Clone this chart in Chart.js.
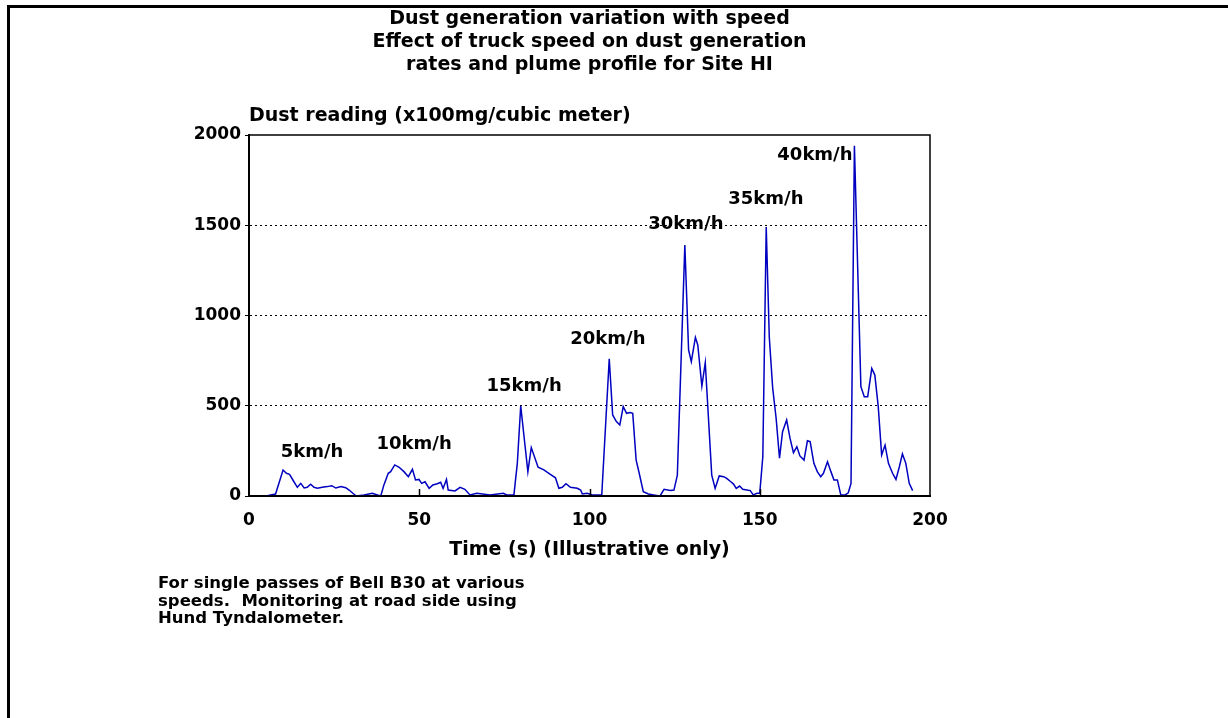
<!DOCTYPE html>
<html><head><meta charset="utf-8">
<script src="https://cdn.jsdelivr.net/npm/chart.js@4.4.1/dist/chart.umd.min.js"></script>
<style>html,body{margin:0;padding:0;background:#fff;overflow:hidden}canvas{display:block}</style>
</head><body>
<canvas id="c" width="1228" height="718"></canvas>
<script>
const titleLines = ["Dust generation variation with speed", "Effect of truck speed on dust generation", "rates and plume profile for Site HI"];
const yAxisTitle = "Dust reading (x100mg/cubic meter)";
const xAxisTitle = "Time (s) (Illustrative only)";
const footnoteLines = ["For single passes of Bell B30 at various", "speeds.  Monitoring at road side using", "Hund Tyndalometer."];
const xTickValues = [0, 50, 100, 150, 200];
const yTickValues = [0, 500, 1000, 1500, 2000];

const timeSec = [5, 7.8, 10.0, 11.0, 11.9, 13.2, 14.2, 15.2, 16.2, 17.1, 18.1, 19.1, 20.1, 21.5, 23.0, 24.3, 25.5, 27.0, 28.4, 29.4, 30.5, 31.5, 33.8, 36.2, 37.7, 38.7,
  39.6, 40.9, 41.6, 42.8, 44.1, 45.5, 46.8, 48.0, 48.9, 49.9, 50.7, 51.7, 52.9, 54.0, 55.3, 56.3, 57.0, 58.0, 58.5, 60.5, 62.0, 63.4, 64.9, 66.9, 70.8, 74.7, 75.7, 77.8,
  78.8, 79.8, 81.1, 81.9, 82.9, 84.9, 86.6, 88.5, 90.0, 91.0, 92.0, 93.1, 94.4, 96.4, 97.4, 97.9, 99.3, 100.8, 103.6,
  105.8, 106.8, 107.9, 108.9, 109.9, 110.9, 111.9, 112.7, 113.7, 114.6, 115.8, 117.3, 118.8, 120.7, 121.9, 123.7, 124.8, 125.8,
  128.0, 129.1, 129.9, 131.1, 131.8, 133.0, 134.0, 135.9, 136.9, 138.1, 139.4, 140.3, 141.5, 142.3, 143.1, 144.1, 145.0, 146.2, 147.2, 148.1, 149.2, 150.0, 150.9,
  151.9, 152.8, 153.8, 154.8, 155.8, 156.7, 157.9, 158.9, 159.9, 160.9, 161.8, 163.0, 164.0, 164.8, 165.9, 166.9, 167.9, 168.7, 169.9, 170.9, 171.8, 172.8, 173.8, 175.1, 176.0, 176.8,
  177.8, 179.7, 180.7, 181.7, 182.9, 183.8, 184.8, 185.8, 186.8, 187.8, 189.0, 190.0, 191.0, 191.9, 192.9, 193.9, 194.9];
const dustReading = [0, 11, 144, 126, 120, 79, 48, 70, 45, 48, 65, 48, 43, 48, 52, 57, 44, 52, 46, 33, 15, 0, 6, 15, 6, 0,
  60, 126, 135, 172, 159, 135, 107, 148, 89, 92, 70, 79, 42, 61, 68, 76, 42, 92, 33, 28, 48, 37, 6, 15, 6, 15, 6, 6,
  181, 499, 273, 135, 268, 159, 145, 120, 101, 43, 48, 68, 48, 43, 33, 11, 15, 6, 6,
  760, 449, 412, 393, 495, 458, 462, 458, 199, 126, 24, 11, 6, 0, 37, 30, 33, 116,
  1390, 809, 744, 879, 837, 609, 739, 116, 42, 111, 107, 98, 79, 66, 42, 55, 37, 33, 30, 6, 15, 15, 218,
  1490, 881, 598, 432, 209, 356, 421, 319, 240, 273, 222, 199, 306, 301, 181, 135, 107, 126, 190, 135, 89, 89, 6, 6, 18, 70,
  1940, 606, 550, 550, 707, 670, 495, 227, 282, 181, 126, 92, 162, 233, 181, 70, 30];

const speedLabels = ["5km/h", "10km/h", "15km/h", "20km/h", "30km/h", "35km/h", "40km/h"];
const speedLabelTime = [18.5, 48.5, 80.8, 105.4, 128.3, 151.8, 166.2];
const speedLabelValue = [244, 288, 609, 870, 1507, 1645, 1889];

const FONT = "'DejaVu Sans', sans-serif";
const points = timeSec.map((t, i) => ({x: t, y: dustReading[i]}));

const decorPlugin = {
  id: 'decor',
  afterDraw(chart) {
    const {ctx, chartArea: a, scales: {x, y}} = chart;
    ctx.save();
    // page border
    ctx.fillStyle = '#000';
    ctx.fillRect(7, 5, 1221, 3);
    ctx.fillRect(7, 5, 3, 713);
    // plot frame
    ctx.strokeStyle = '#000';
    ctx.lineWidth = 1.5;
    ctx.strokeRect(a.left, a.top, a.right - a.left, a.bottom - a.top);
    // inner x ticks
    xTickValues.slice(1, -1).forEach(v => {
      const px = Math.round(x.getPixelForValue(v)) + 0.5;
      ctx.beginPath(); ctx.moveTo(px, a.bottom); ctx.lineTo(px, a.bottom - 7); ctx.stroke();
    });
    // speed labels
    ctx.fillStyle = '#000';
    ctx.font = "bold 18px " + FONT;
    ctx.textAlign = 'center';
    ctx.textBaseline = 'middle';
    speedLabels.forEach((s, i) => {
      ctx.fillText(s, x.getPixelForValue(speedLabelTime[i]), y.getPixelForValue(speedLabelValue[i]));
    });
    // footnote
    ctx.font = "bold 16.5px " + FONT;
    ctx.textAlign = 'left';
    footnoteLines.forEach((s, i) => ctx.fillText(s, 158, 584 + i * 17.5));
    ctx.restore();
  }
};

new Chart(document.getElementById('c'), {
  type: 'line',
  data: {datasets: [{
    data: points,
    borderColor: '#0000c0',
    borderWidth: 1.5,
    pointRadius: 0,
    tension: 0,
    fill: false
  }]},
  options: {
    responsive: false,
    animation: false,
    devicePixelRatio: 1,
    layout: {padding: {top: 8, left: 149, right: 298, bottom: 122}},
    plugins: {
      legend: {display: false},
      tooltip: {enabled: false},
      title: {display: true, text: titleLines, fullSize: false, color: '#000',
        font: {family: FONT, size: 19, weight: 'bold', lineHeight: 23/19},
        padding: {top: 0, bottom: 27.5}},
      subtitle: {display: true, text: yAxisTitle, fullSize: false, align: 'start', color: '#000',
        font: {family: FONT, size: 19, weight: 'bold', lineHeight: 23/19},
        padding: {top: 0, bottom: 7.5}}
    },
    scales: {
      x: {
        type: 'linear', min: 0, max: 200,
        afterFit(s) { s.height = 100; },
        afterBuildTicks(s) { s.ticks = xTickValues.map(v => ({value: v})); },
        grid: {display: true, drawOnChartArea: false, drawTicks: false},
        border: {display: true, color: '#000', width: 2},
        ticks: {color: '#000', padding: 14, maxRotation: 0, font: {family: FONT, size: 17, weight: 'bold'}, callback: v => String(v)},
        title: {display: true, text: xAxisTitle, color: '#000', font: {family: FONT, size: 19, weight: 'bold', lineHeight: 1.2}, padding: {top: 0, bottom: 34.6}}
      },
      y: {
        type: 'linear', min: 0, max: 2000,
        afterFit(s) { s.width = 100; },
        afterBuildTicks(s) { s.ticks = yTickValues.map(v => ({value: v})); },
        grid: {
          color: c => (c.tick && (c.tick.value === 0 || c.tick.value === 2000)) ? 'rgba(0,0,0,0)' : '#000',
          tickColor: '#000', tickLength: 4, tickBorderDash: [], lineWidth: 1
        },
        border: {display: true, color: '#000', width: 2, dash: [2, 3]},
        ticks: {color: '#000', padding: 4, font: {family: FONT, size: 17, weight: 'bold'}, callback: v => String(v)}
      }
    }
  },
  plugins: [decorPlugin]
});
</script>
</body></html>
